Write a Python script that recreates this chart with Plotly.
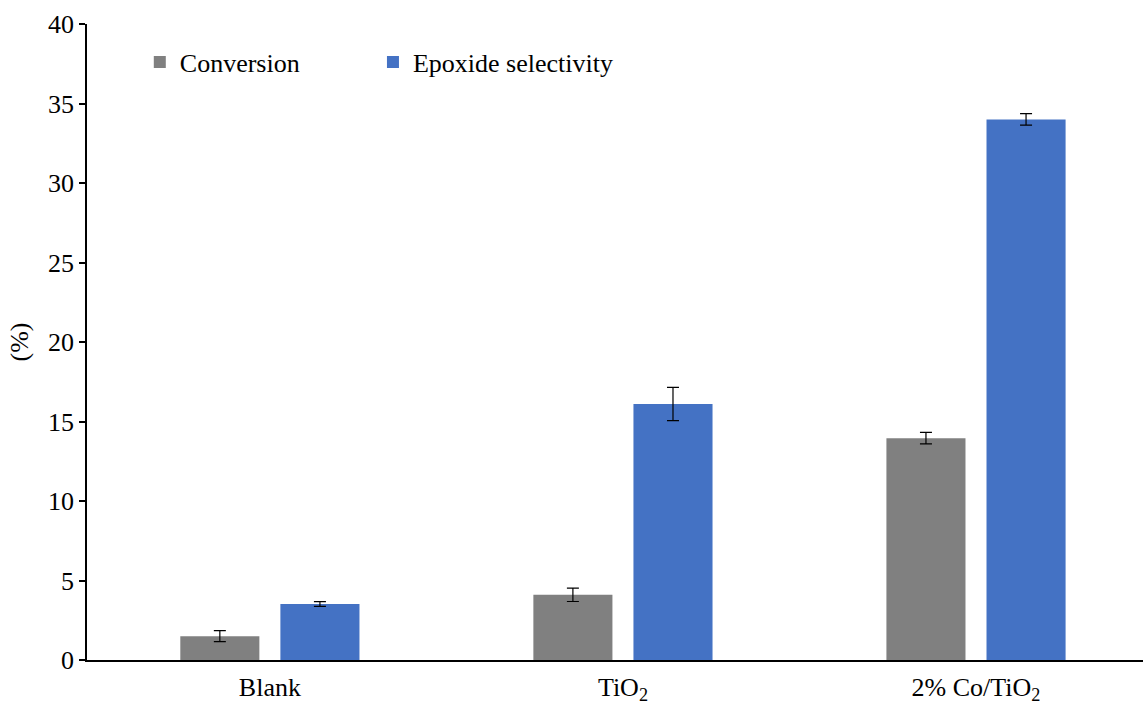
import plotly.graph_objects as go

categories = ["Blank", "TiO<sub>2</sub>", "2% Co/TiO<sub>2</sub>"]
conversion = [1.5, 4.1, 13.95]
conversion_err = [0.35, 0.42, 0.36]
selectivity = [3.52, 16.1, 34.0]
selectivity_err = [0.15, 1.04, 0.36]

font_family = "Liberation Serif, Times New Roman, DejaVu Serif, serif"
fsize = 26

fig = go.Figure()
fig.add_trace(go.Bar(
    x=categories, y=conversion, name="Conversion",
    marker=dict(color="#808080", line=dict(width=0)),
    error_y=dict(type="data", array=conversion_err, color="black", thickness=1.2, width=6),
    legend="legend",
))
fig.add_trace(go.Bar(
    x=categories, y=selectivity, name="Epoxide selectivity",
    marker=dict(color="#4472C4", line=dict(width=0)),
    error_y=dict(type="data", array=selectivity_err, color="black", thickness=1.2, width=6),
    legend="legend2",
))

legend_common = dict(
    orientation="h", y=0.977, xanchor="left", yanchor="top",
    font=dict(family=font_family, size=fsize, color="black"),
    bgcolor="rgba(0,0,0,0)", itemwidth=30,
)

fig.update_layout(
    width=1143, height=704,
    margin=dict(l=87, r=0, t=24, b=44),
    paper_bgcolor="white", plot_bgcolor="white",
    barmode="group", bargap=0.433, bargroupgap=0.21,
    font=dict(family=font_family, size=fsize, color="black"),
    showlegend=True,
    legend=dict(x=0.05, **legend_common),
    legend2=dict(x=0.2708, **legend_common),
    xaxis=dict(
        range=[-0.518, 2.473], showline=True, linecolor="black", linewidth=1.5,
        ticks="", showgrid=False, zeroline=False, ticklabelstandoff=3,
        tickfont=dict(family=font_family, size=fsize, color="black"),
    ),
    yaxis=dict(
        range=[0, 40], dtick=5, showline=True, linecolor="black", linewidth=1.5,
        ticks="outside", ticklen=6, tickwidth=1.5, tickcolor="black",
        showgrid=False, zeroline=False,
        title=dict(text="(%)", standoff=12, font=dict(family=font_family, size=fsize)),
        tickfont=dict(family=font_family, size=fsize, color="black"),
    ),
)

fig.write_html("out.html")
